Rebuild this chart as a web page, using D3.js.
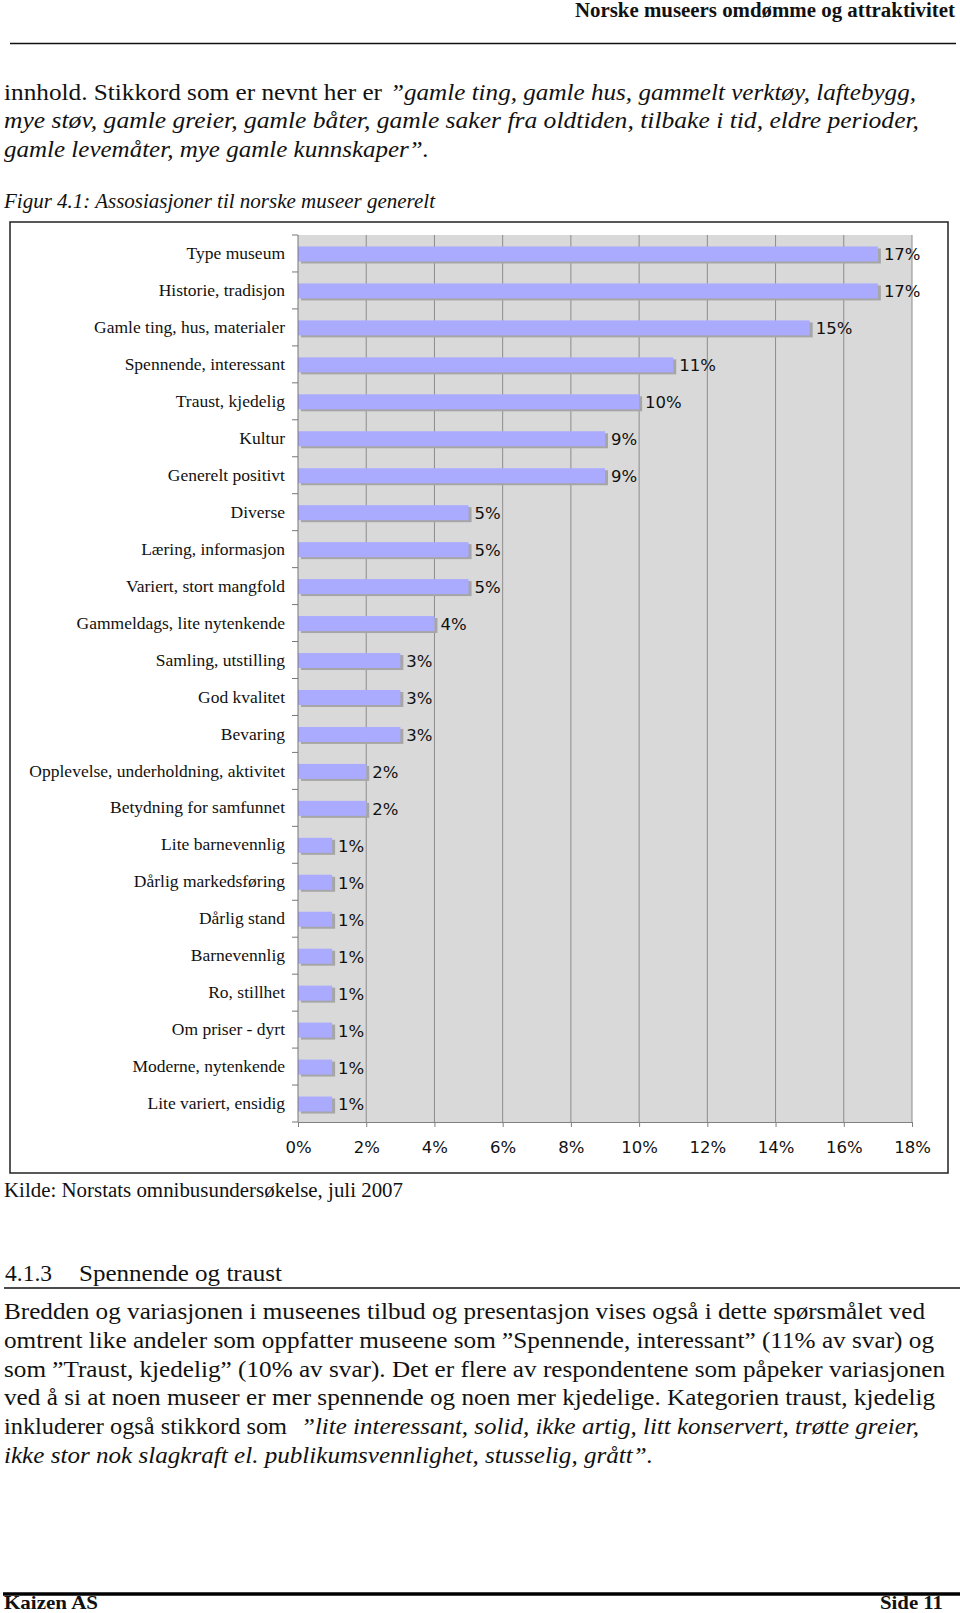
<!DOCTYPE html>
<html>
<head>
<meta charset="utf-8">
<script src="https://cdn.jsdelivr.net/npm/d3@7/dist/d3.min.js"></script>
<style>
  html, body { margin: 0; padding: 0; background: #fff; }
  svg { display: block; }
</style>
</head>
<body>
<svg id="page" width="960" height="1613"></svg>
<script>
// ---------- DATA ----------
const categories = [
  "Type museum", "Historie, tradisjon", "Gamle ting, hus, materialer",
  "Spennende, interessant", "Traust, kjedelig", "Kultur", "Generelt positivt",
  "Diverse", "Læring, informasjon", "Variert, stort mangfold",
  "Gammeldags, lite nytenkende", "Samling, utstilling", "God kvalitet",
  "Bevaring", "Opplevelse, underholdning, aktivitet", "Betydning for samfunnet",
  "Lite barnevennlig", "Dårlig markedsføring", "Dårlig stand", "Barnevennlig",
  "Ro, stillhet", "Om priser - dyrt", "Moderne, nytenkende", "Lite variert, ensidig"
];
const values = [17, 17, 15, 11, 10, 9, 9, 5, 5, 5, 4, 3, 3, 3, 2, 2, 1, 1, 1, 1, 1, 1, 1, 1];
const xTicks = [0, 2, 4, 6, 8, 10, 12, 14, 16, 18];

const headerText = "Norske museers omdømme og attraktivitet";
const figureTitle = "Figur 4.1: Assosiasjoner til norske museer generelt";
const sourceText = "Kilde: Norstats omnibusundersøkelse, juli 2007";
const sectionNumber = "4.1.3";
const sectionTitle = "Spennende og traust";
const footerLeft = "Kaizen AS";
const footerRight = "Side 11";

// ---------- PAGE ----------
const svg = d3.select("#page");
const serif = "'Liberation Serif', 'Times New Roman', Times, serif";
const sans = "'DejaVu Sans', Verdana, sans-serif";

svg.append("rect").attr("width", 960).attr("height", 1613).attr("fill", "#fff");

function txt(s, x, y, size, opts = {}) {
  const t = svg.append("text")
    .attr("x", x).attr("y", y)
    .style("font-family", serif)
    .style("font-size", size + "px")
    .attr("fill", "#111")
    .text(s);
  if (opts.italic) t.style("font-style", "italic");
  if (opts.bold) t.style("font-weight", "bold");
  if (opts.len) t.attr("textLength", opts.len).attr("lengthAdjust", "spacingAndGlyphs");
  return t;
}

const P = 23.5; // paragraph font size

// header
txt(headerText, 575, 17, 20.5, { bold: true, len: 380 });
svg.append("line").attr("x1", 10).attr("x2", 956).attr("y1", 43.5).attr("y2", 43.5)
  .attr("stroke", "#111").attr("stroke-width", 1.5);

// top paragraph
txt("innhold. Stikkord som er nevnt her er", 4, 99.5, P, { len: 378 });
txt("”gamle ting, gamle hus, gammelt verktøy, laftebygg,", 390, 99.5, P, { italic: true, len: 526 });
txt("mye støv, gamle greier, gamle båter, gamle saker fra oldtiden, tilbake i tid, eldre perioder,", 4, 128.3, P, { italic: true, len: 915 });
txt("gamle levemåter, mye gamle kunnskaper”.", 4, 157, P, { italic: true, len: 425 });

// figure title
txt(figureTitle, 4, 208, 20.5, { italic: true, len: 431 });

// chart frame
svg.append("rect").attr("x", 10).attr("y", 222).attr("width", 938).attr("height", 951)
  .attr("fill", "#fff").attr("stroke", "#222").attr("stroke-width", 1.5);

// ---------- CHART ----------
const x = d3.scaleLinear().domain([0, 18]).range([298, 912]);
const y = d3.scaleBand().domain(categories).range([235, 1122]);
const bw = y.bandwidth();
const barH = 15;

const chart = svg.append("g");

chart.append("rect")
  .attr("x", x(0)).attr("y", y.range()[0])
  .attr("width", x(18) - x(0)).attr("height", y.range()[1] - y.range()[0])
  .attr("fill", "#d9d9d9");

chart.selectAll("line.grid").data(xTicks.filter(d => d > 0)).enter()
  .append("line").attr("class", "grid")
  .attr("x1", d => x(d)).attr("x2", d => x(d))
  .attr("y1", y.range()[0]).attr("y2", y.range()[1])
  .attr("stroke", "#8c8c8c").attr("stroke-width", 1);

const rows = categories.map((c, i) => ({ c, v: values[i] }));

// shadows
chart.selectAll("rect.shadow").data(rows).enter()
  .append("rect").attr("class", "shadow")
  .attr("x", x(0) + 3)
  .attr("y", d => y(d.c) + (bw - barH) / 2 + 0.5 + 2)
  .attr("width", d => x(d.v) - x(0))
  .attr("height", barH)
  .attr("fill", "#a6a6a6");

// bars
chart.selectAll("rect.bar").data(rows).enter()
  .append("rect").attr("class", "bar")
  .attr("x", x(0))
  .attr("y", d => y(d.c) + (bw - barH) / 2 + 0.5)
  .attr("width", d => x(d.v) - x(0))
  .attr("height", barH)
  .attr("fill", "#aaaaff");

// value labels
chart.selectAll("text.val").data(rows).enter()
  .append("text").attr("class", "val")
  .attr("x", d => x(d.v) + 6)
  .attr("y", d => y(d.c) + bw / 2 + 1)
  .attr("dy", "0.36em")
  .style("font-family", sans).style("font-size", "16.5px")
  .attr("fill", "#111")
  .text(d => d.v + "%");

// left axis (category labels)
const yAxis = chart.append("g").attr("transform", `translate(${x(0)},0)`)
  .call(d3.axisLeft(y).tickSize(0).tickPadding(13));
yAxis.select(".domain").remove();
yAxis.selectAll("text")
  .style("font-family", serif).style("font-size", "17.5px").attr("fill", "#111");

// row boundary ticks + axis line
chart.selectAll("line.rtick").data(d3.range(categories.length + 1)).enter()
  .append("line").attr("class", "rtick")
  .attr("x1", x(0) - 6).attr("x2", x(0))
  .attr("y1", i => y.range()[0] + i * bw).attr("y2", i => y.range()[0] + i * bw)
  .attr("stroke", "#777");
chart.append("line")
  .attr("x1", x(0)).attr("x2", x(0))
  .attr("y1", y.range()[0]).attr("y2", y.range()[1])
  .attr("stroke", "#777").attr("stroke-width", 1);

// bottom axis
const xAxis = chart.append("g").attr("transform", `translate(0,${y.range()[1]})`)
  .call(d3.axisBottom(x).tickValues(xTicks).tickSize(5).tickPadding(14).tickFormat(d => d + "%"));
xAxis.select(".domain").attr("stroke", "#808080");
xAxis.selectAll(".tick line").attr("stroke", "#808080");
xAxis.selectAll("text").style("font-family", sans).style("font-size", "16.5px").attr("fill", "#111");

// source
txt(sourceText, 4, 1197, 20.5, { len: 399 });

// ---------- SECTION ----------
txt(sectionNumber, 5, 1281, P, { len: 47 });
txt(sectionTitle, 79, 1281, P, { len: 203 });
svg.append("line").attr("x1", 4).attr("x2", 960).attr("y1", 1288).attr("y2", 1288)
  .attr("stroke", "#111").attr("stroke-width", 1.5);

const b0 = 1319, lh = 28.8;
txt("Bredden og variasjonen i museenes tilbud og presentasjon vises også i dette spørsmålet ved", 4, b0, P, { len: 921 });
txt("omtrent like andeler som oppfatter museene som ”Spennende, interessant” (11% av svar) og", 4, b0 + lh, P, { len: 930 });
txt("som ”Traust, kjedelig” (10% av svar). Det er flere av respondentene som påpeker variasjonen", 4, b0 + 2 * lh, P, { len: 941 });
txt("ved å si at noen museer er mer spennende og noen mer kjedelige. Kategorien traust, kjedelig", 4, b0 + 3 * lh, P, { len: 931 });
txt("inkluderer også stikkord som", 4, b0 + 4 * lh, P, { len: 283 });
txt("”lite interessant, solid, ikke artig, litt konservert, trøtte greier,", 301, b0 + 4 * lh, P, { italic: true, len: 618 });
txt("ikke stor nok slagkraft el. publikumsvennlighet, stusselig, grått”.", 4, b0 + 5 * lh, P, { italic: true, len: 649 });

// ---------- FOOTER ----------
svg.append("line").attr("x1", 3).attr("x2", 960).attr("y1", 1594).attr("y2", 1594)
  .attr("stroke", "#000").attr("stroke-width", 3.5);
txt(footerLeft, 4, 1608.5, 19.5, { bold: true, len: 94 });
txt(footerRight, 880, 1608.5, 19.5, { bold: true, len: 63 });
</script>
</body>
</html>
